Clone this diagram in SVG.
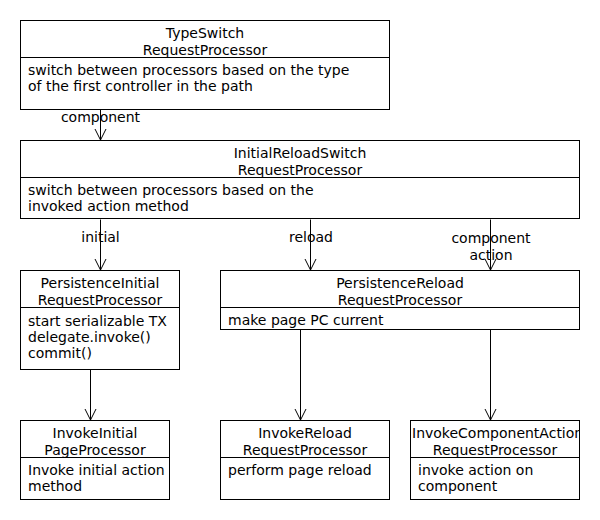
<svg xmlns="http://www.w3.org/2000/svg" width="600" height="520" viewBox="0 0 600 520">
<style>
text{font-family:"DejaVu Sans","Liberation Sans",sans-serif;font-size:14px;fill:#000}
.t{text-anchor:middle}
.box{fill:#fff;stroke:#000;stroke-width:1}
.div{stroke:#000;stroke-width:1}
.edge{fill:none;stroke:#000;stroke-width:1}
</style>
<defs>
<marker id="arr" viewBox="-12 -7 14 14" refX="0" refY="0" markerWidth="14" markerHeight="14" markerUnits="userSpaceOnUse" orient="auto" overflow="visible">
<path d="M-11,-5.5 L0,0 L-11,5.5" fill="none" stroke="#000" stroke-width="1"/>
</marker>
<clipPath id="c7"><rect x="410.5" y="420.5" width="169" height="36"/></clipPath>
</defs>
<rect x="0" y="0" width="600" height="520" fill="#fff"/>

<g id="connectors">
<line class="edge" x1="100.5" y1="109.5" x2="100.5" y2="140" marker-end="url(#arr)"/>
<text class="t" x="100.5" y="122">component</text>
<line class="edge" x1="100.5" y1="219.5" x2="100.5" y2="270" marker-end="url(#arr)"/>
<text class="t" x="100.5" y="242">initial</text>
<line class="edge" x1="310.5" y1="219.5" x2="310.5" y2="270" marker-end="url(#arr)"/>
<text class="t" x="311" y="242">reload</text>
<line class="edge" x1="490.5" y1="219.5" x2="490.5" y2="270" marker-end="url(#arr)"/>
<text class="t" x="491" y="242.5">component</text>
<text class="t" x="491" y="259.5">action</text>
<line class="edge" x1="90.5" y1="369.5" x2="90.5" y2="420" marker-end="url(#arr)"/>
<line class="edge" x1="300.5" y1="329.5" x2="300.5" y2="420" marker-end="url(#arr)"/>
<line class="edge" x1="490.5" y1="329.5" x2="490.5" y2="420" marker-end="url(#arr)"/>
</g>

<g id="typeSwitch">
<rect class="box" x="20.5" y="20.5" width="369" height="89"/>
<line class="div" x1="20.5" y1="57.5" x2="389.5" y2="57.5"/>
<text class="t" x="205" y="38">TypeSwitch</text>
<text class="t" x="205" y="54.5">RequestProcessor</text>
<text x="28" y="74.5">switch between processors based on the type</text>
<text x="28" y="91">of the first controller in the path</text>
</g>

<g id="initialReloadSwitch">
<rect class="box" x="20.5" y="140.5" width="559" height="78"/>
<line class="div" x1="20.5" y1="177.5" x2="579.5" y2="177.5"/>
<text class="t" x="300" y="158">InitialReloadSwitch</text>
<text class="t" x="300" y="174.5">RequestProcessor</text>
<text x="28" y="194.5">switch between processors based on the</text>
<text x="28" y="211">invoked action method</text>
</g>

<g id="persistenceInitial">
<rect class="box" x="20.5" y="270.5" width="159" height="99"/>
<line class="div" x1="20.5" y1="307.5" x2="179.5" y2="307.5"/>
<text class="t" x="100" y="288">PersistenceInitial</text>
<text class="t" x="100" y="304.5">RequestProcessor</text>
<text x="28" y="325.5">start serializable TX</text>
<text x="28" y="342">delegate.invoke()</text>
<text x="28" y="358">commit()</text>
</g>

<g id="persistenceReload">
<rect class="box" x="220.5" y="270.5" width="359" height="59"/>
<line class="div" x1="220.5" y1="307.5" x2="579.5" y2="307.5"/>
<text class="t" x="400" y="288">PersistenceReload</text>
<text class="t" x="400" y="304.5">RequestProcessor</text>
<text x="228" y="324.5">make page PC current</text>
</g>

<g id="invokeInitial">
<rect class="box" x="20.5" y="420.5" width="149" height="79"/>
<line class="div" x1="20.5" y1="457.5" x2="169.5" y2="457.5"/>
<text class="t" x="95" y="438">InvokeInitial</text>
<text class="t" x="95" y="454.5">PageProcessor</text>
<text x="28" y="474.5">Invoke initial action</text>
<text x="28" y="491">method</text>
</g>

<g id="invokeReload">
<rect class="box" x="220.5" y="420.5" width="169" height="79"/>
<line class="div" x1="220.5" y1="457.5" x2="389.5" y2="457.5"/>
<text class="t" x="305" y="438">InvokeReload</text>
<text class="t" x="305" y="454.5">RequestProcessor</text>
<text x="228" y="474.5">perform page reload</text>
</g>

<g id="invokeComponentAction">
<rect class="box" x="410.5" y="420.5" width="169" height="79"/>
<line class="div" x1="410.5" y1="457.5" x2="579.5" y2="457.5"/>
<text x="412" y="438" clip-path="url(#c7)">InvokeComponentAction</text>
<text class="t" x="495" y="454.5">RequestProcessor</text>
<text x="418" y="474.5">invoke action on</text>
<text x="418" y="491">component</text>
</g>
</svg>
